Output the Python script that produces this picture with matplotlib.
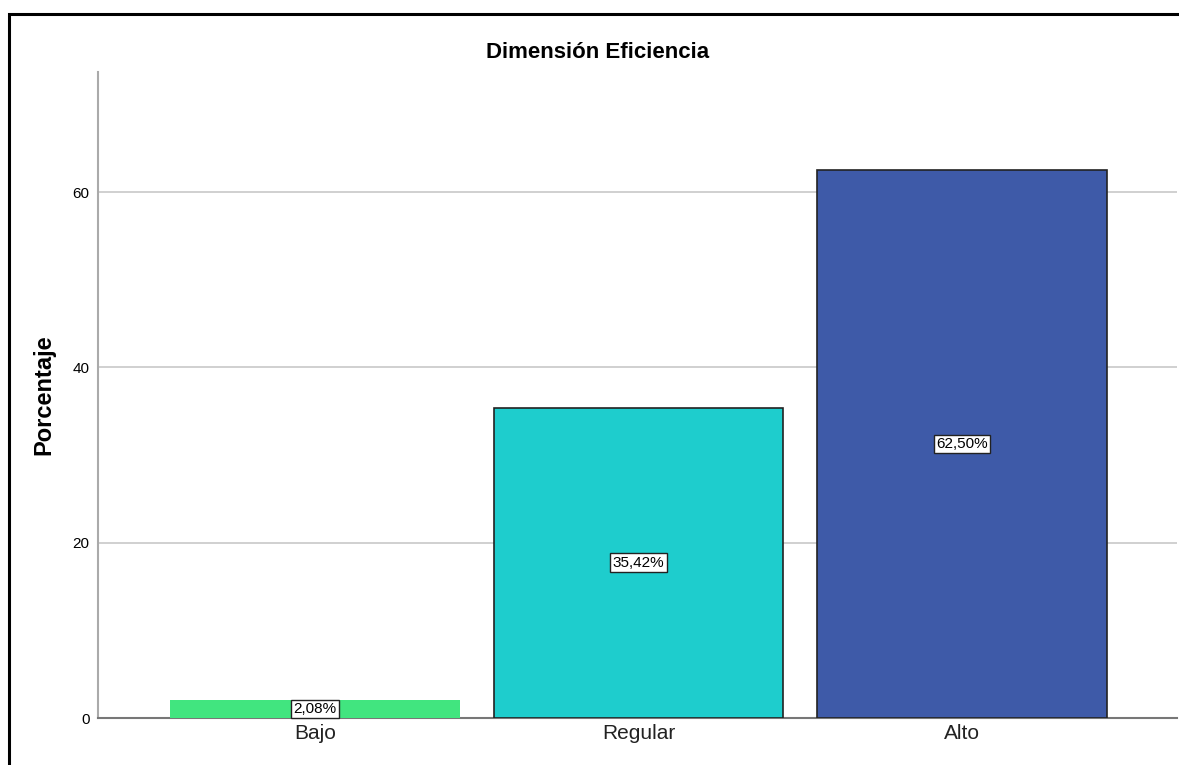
import matplotlib
matplotlib.use("Agg")
import matplotlib.pyplot as plt
from matplotlib.patches import Rectangle

categorias = ["Bajo", "Regular", "Alto"]
porcentajes = [2.08, 35.42, 62.50]
etiquetas = ["2,08%", "35,42%", "62,50%"]
colores = ["#41e57f", "#1ecdcd", "#3e5aa8"]
bordes = ["none", "#222222", "#222222"]
yticks = [0, 20, 40, 60]

plt.rcParams['font.family'] = ['Liberation Sans', 'DejaVu Sans']

fig = plt.figure(figsize=(11.79, 7.65), dpi=100)
ax = fig.add_axes([98/1179, 47/765, 1079/1179, 646/765])

x = list(range(len(categorias)))
ax.bar(x, porcentajes, width=0.896, color=colores, edgecolor=bordes, linewidth=1.2, zorder=3)

for xi, v, lab in zip(x, porcentajes, etiquetas):
    ax.text(xi, v / 2, lab, ha="center", va="center", fontsize=11, zorder=4,
            bbox=dict(boxstyle="square,pad=0.15", fc="white", ec="#222222", lw=1))

ax.set_xlim(-0.671, 2.665)
ax.set_ylim(0, 73.7)
ax.set_yticks(yticks)
ax.set_xticks(x)
ax.set_xticklabels(categorias, fontsize=15, color="#222222")
ax.tick_params(axis="y", length=0, labelsize=11, pad=6)
ax.tick_params(axis="x", length=0, pad=4)
ax.yaxis.grid(True, color="#c8c8c8", lw=1.2, zorder=0)
for s in ["top", "right"]:
    ax.spines[s].set_visible(False)
ax.spines["left"].set_color("#aaaaaa")
ax.spines["left"].set_linewidth(1.5)
ax.spines["bottom"].set_color("#777777")
ax.spines["bottom"].set_linewidth(1.5)

ax.set_ylabel("Porcentaje", fontsize=17, fontweight="bold")
ax.yaxis.set_label_coords(-43/1079, 0.5)
fig.text(598/1179, 1 - 52/765, "Dimensión Eficiencia", ha="center", va="center",
         fontsize=16, fontweight="bold")

# marco exterior
fig.patches.append(Rectangle((9/1179, -0.1), 1.2, 1 - 14/765 + 0.1, transform=fig.transFigure,
                             fill=False, ec="black", lw=2.2))

fig.savefig("out.png", dpi=100)
